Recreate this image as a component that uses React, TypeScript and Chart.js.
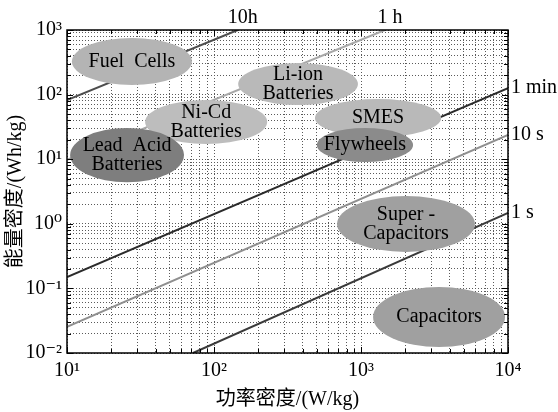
import React, { useEffect, useRef } from 'react';
import { Chart, registerables } from 'chart.js';

Chart.register(...registerables);

// ---- Data ----
// Constant discharge-time lines (power W/kg, energy Wh/kg end points)
const timeLabels = ['10h', '1 h', '1 min', '10 s', '1 s'];
const linePowerStart = [10, 10, 10, 10, 72];
const linePowerEnd = [145, 1455, 10000, 10000, 10000];
const lineEnergyStart = [82.5, 9.8, 0.15, 0.0255, 0.01];
const lineEnergyEnd = [1000, 1000, 126, 23.7, 1.47];

// Storage technology regions (ranges of power and energy density)
const storageNames = [
  'Fuel  Cells',
  'Li-ion\nBatteries',
  'Ni-Cd\nBatteries',
  'Lead  Acid\nBatteries',
  'SMES',
  'Flywheels',
  'Super -\nCapacitors',
  'Capacitors',
];
const powerMin = [10.8, 146, 34, 10.5, 486, 501, 687, 1208];
const powerMax = [70.8, 953, 230, 62.5, 3510, 2260, 5960, 9550];
const energyMin = [141, 69, 17.2, 4.4, 22, 9.06, 0.366, 0.0124];
const energyMax = [752, 308, 82.6, 30.4, 85.5, 30.4, 2.69, 0.105];

// Axis ranges and titles
const xRange = [10, 10000];
const yRange = [0.01, 1000];
const xTitle = '功率密度/(W/kg)';
const yTitle = '能量密度/(Wh/kg)';

// ---- Styles ----
const regionColors = ['#b4b4b4', '#b9b9b9', '#bdbdbd', '#7e7e7e', '#b9b9b9', '#8b8b8b', '#a0a0a0', '#a0a0a0'];
const lineColors = ['#4d4d4d', '#a8a8a8', '#2b2b2b', '#8f8f8f', '#3a3a3a'];
const SERIF = '"Liberation Serif", "DejaVu Serif", serif';
const CJK = '"Liberation Serif", "Noto Sans CJK SC", serif';

const SUP: Record<string, string> = { '0': '⁰', '1': '¹', '2': '²', '3': '³', '4': '⁴', '-': '⁻' };

function isPow10(v: number) {
  const l = Math.log10(v);
  return Math.abs(l - Math.round(l)) < 1e-9;
}
function fmtTick(v: number | string) {
  const n = Number(v);
  if (!isPow10(n)) return '';
  const e = String(Math.round(Math.log10(n)));
  return '10' + e.split('').map((c) => SUP[c] || c).join('');
}
function decadeTicks(min: number, max: number) {
  const out: { value: number; major: boolean }[] = [];
  const e0 = Math.round(Math.log10(min));
  const e1 = Math.round(Math.log10(max));
  for (let e = e0; e < e1; e++) {
    for (let m = 1; m < 10; m++) {
      const v = parseFloat((m * Math.pow(10, e)).toPrecision(12));
      out.push({ value: v, major: m === 1 });
    }
  }
  out.push({ value: max, major: true });
  return out;
}

const overlayPlugin = {
  id: 'ragoneOverlay',
  afterDatasetsDraw(chart: any) {
    const { ctx, chartArea, scales } = chart;
    const xs = scales.x;
    const ys = scales.y;
    ctx.save();
    ctx.beginPath();
    ctx.rect(chartArea.left, chartArea.top, chartArea.right - chartArea.left, chartArea.bottom - chartArea.top);
    ctx.clip();
    storageNames.forEach((name, i) => {
      const x0 = xs.getPixelForValue(powerMin[i]);
      const x1 = xs.getPixelForValue(powerMax[i]);
      const y0 = ys.getPixelForValue(energyMin[i]);
      const y1 = ys.getPixelForValue(energyMax[i]);
      const cx = (x0 + x1) / 2;
      const cy = (y0 + y1) / 2;
      ctx.fillStyle = regionColors[i];
      ctx.beginPath();
      ctx.ellipse(cx, cy, Math.abs(x1 - x0) / 2, Math.abs(y1 - y0) / 2, 0, 0, Math.PI * 2);
      ctx.fill();
      const rows = name.split('\n');
      ctx.fillStyle = '#000';
      ctx.font = `20px ${SERIF}`;
      ctx.textAlign = 'center';
      ctx.textBaseline = 'middle';
      const lh = 19;
      rows.forEach((r, k) => {
        ctx.fillText(r, cx, cy + (k - (rows.length - 1) / 2) * lh);
      });
    });
    ctx.restore();
  },
  afterDraw(chart: any) {
    const { ctx, chartArea, scales } = chart;
    const xs = scales.x;
    const ys = scales.y;
    const { left, right, top, bottom } = chartArea;
    ctx.save();
    // inward tick marks on all four sides
    ctx.strokeStyle = '#000';
    ctx.lineWidth = 1;
    xs.ticks.forEach((t: any) => {
      const px = Math.round(xs.getPixelForValue(t.value)) + 0.5;
      const len = t.major ? 6 : 4;
      ctx.beginPath();
      ctx.moveTo(px, bottom);
      ctx.lineTo(px, bottom - len);
      ctx.moveTo(px, top);
      ctx.lineTo(px, top + len);
      ctx.stroke();
    });
    ys.ticks.forEach((t: any) => {
      const py = Math.round(ys.getPixelForValue(t.value)) + 0.5;
      const len = t.major ? 6 : 4;
      ctx.beginPath();
      ctx.moveTo(left, py);
      ctx.lineTo(left + len, py);
      ctx.moveTo(right, py);
      ctx.lineTo(right - len, py);
      ctx.stroke();
    });
    // frame
    ctx.lineWidth = 1.5;
    ctx.strokeRect(left, top, right - left, bottom - top);
    // time labels
    ctx.fillStyle = '#000';
    ctx.font = `20px ${SERIF}`;
    timeLabels.forEach((lab, i) => {
      const ex = xs.getPixelForValue(linePowerEnd[i]);
      const ey = ys.getPixelForValue(lineEnergyEnd[i]);
      if (lineEnergyEnd[i] >= yRange[1]) {
        ctx.textAlign = 'center';
        ctx.textBaseline = 'middle';
        ctx.fillText(lab, ex + 5, top - 12);
      } else {
        ctx.textAlign = 'left';
        ctx.textBaseline = 'middle';
        ctx.fillText(lab, right + 3, ey);
      }
    });
    ctx.restore();
  },
};

export default function App() {
  const ref = useRef<HTMLCanvasElement | null>(null);
  useEffect(() => {
    if (!ref.current) return;
    const datasets = timeLabels.map((lab, i) => ({
      label: lab,
      data: [
        { x: linePowerStart[i], y: lineEnergyStart[i] },
        { x: linePowerEnd[i], y: lineEnergyEnd[i] },
      ],
      showLine: true,
      borderColor: lineColors[i],
      backgroundColor: lineColors[i],
      borderWidth: 2,
      pointRadius: 0,
      pointHoverRadius: 0,
    }));
    const chart = new Chart(ref.current, {
      type: 'scatter',
      data: { datasets },
      options: {
        responsive: false,
        animation: false,
        events: [],
        layout: { padding: { top: 30, right: 50, bottom: 0, left: 0 } },
        plugins: { legend: { display: false }, tooltip: { enabled: false } },
        scales: {
          x: {
            type: 'logarithmic',
            min: xRange[0],
            max: xRange[1],
            afterBuildTicks: (s: any) => {
              s.ticks = decadeTicks(xRange[0], xRange[1]);
            },
            afterFit: (s: any) => {
              s.height = 59;
            },
            ticks: {
              autoSkip: false,
              maxRotation: 0,
              minRotation: 0,
              padding: 6,
              color: '#000',
              font: { family: SERIF, size: 20 },
              callback: (v: any) => fmtTick(v),
            },
            grid: { color: '#5a5a5a', lineWidth: 1, drawTicks: false },
            border: { display: false, dash: [1, 2] },
            title: {
              display: true,
              text: xTitle,
              color: '#000',
              font: { family: CJK, size: 20 },
              padding: { top: 0, bottom: 0 },
            },
          },
          y: {
            type: 'logarithmic',
            min: yRange[0],
            max: yRange[1],
            afterBuildTicks: (s: any) => {
              s.ticks = decadeTicks(yRange[0], yRange[1]);
            },
            afterFit: (s: any) => {
              s.width = 67;
            },
            ticks: {
              autoSkip: false,
              padding: 5,
              color: '#000',
              font: { family: SERIF, size: 20 },
              callback: (v: any) => fmtTick(v),
            },
            grid: { color: '#5a5a5a', lineWidth: 1, drawTicks: false },
            border: { display: false, dash: [1, 2] },
            title: {
              display: true,
              text: yTitle,
              color: '#000',
              font: { family: CJK, size: 20 },
              padding: { top: 4, bottom: 0 },
            },
          },
        },
      },
      plugins: [overlayPlugin],
    } as any);
    return () => chart.destroy();
  }, []);
  return (
    <div style={{ position: 'fixed', left: 0, top: 0, width: 558, height: 412, background: '#fff' }}>
      <canvas ref={ref} width={558} height={412} style={{ display: 'block' }} />
    </div>
  );
}
